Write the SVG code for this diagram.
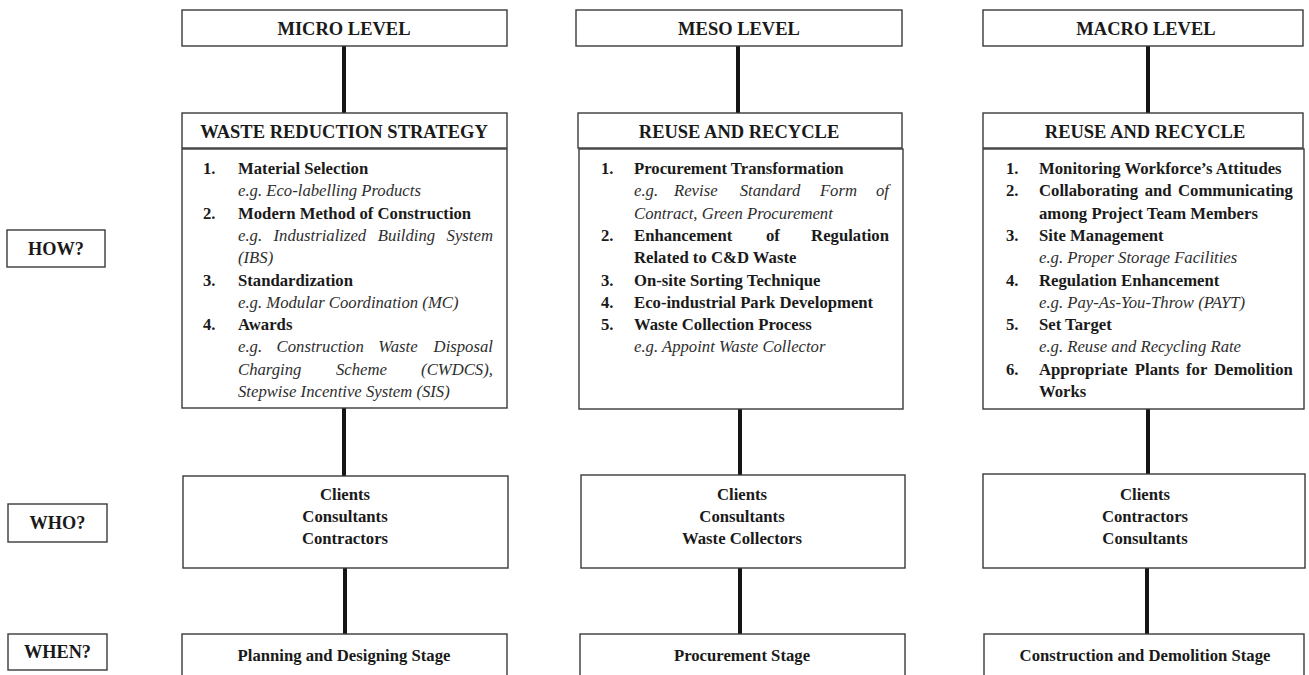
<svg xmlns="http://www.w3.org/2000/svg" width="1309" height="675" viewBox="0 0 1309 675">
<style>
text{font-family:"Liberation Serif","Times New Roman",serif;fill:#1a1a1a}
.box{fill:#fff;stroke:#3a3a3a;stroke-width:1.4}
.hd{font-size:18.5px;font-weight:bold;text-anchor:middle}
.lb{font-size:18.3px;font-weight:bold;text-anchor:middle}
.b{font-size:16.7px;font-weight:bold}
.c{font-size:16.7px;font-weight:bold;text-anchor:middle}
.i{font-size:16.7px;font-style:italic;fill:#2e2e2e}
.con{stroke:#151515;stroke-width:4;fill:none}
</style>
<rect width="1309" height="675" fill="#fff"/>
<g id="connectors">
<line class="con" x1="344" y1="46" x2="344" y2="113"/>
<line class="con" x1="344" y1="408" x2="344" y2="476"/>
<line class="con" x1="345" y1="568" x2="345" y2="634"/>
<line class="con" x1="738" y1="46" x2="738" y2="113"/>
<line class="con" x1="740" y1="409" x2="740" y2="475"/>
<line class="con" x1="740" y1="568" x2="740" y2="634"/>
<line class="con" x1="1148" y1="46" x2="1148" y2="113"/>
<line class="con" x1="1148" y1="409" x2="1148" y2="474"/>
<line class="con" x1="1147" y1="568" x2="1147" y2="634"/>
</g>
<g id="how"><rect class="box" x="7" y="230" width="98" height="37"/><text class="lb" x="56" y="255">HOW?</text></g>
<g id="who"><rect class="box" x="8" y="504" width="99" height="38"/><text class="lb" x="57.5" y="529">WHO?</text></g>
<g id="when"><rect class="box" x="8" y="634" width="99" height="36"/><text class="lb" x="57.5" y="658">WHEN?</text></g>

<g id="micro-level"><rect class="box" x="182" y="10" width="325" height="36"/><text class="hd" x="344" y="35">MICRO LEVEL</text></g>
<g id="meso-level"><rect class="box" x="576" y="10" width="326" height="36"/><text class="hd" x="739" y="35">MESO LEVEL</text></g>
<g id="macro-level"><rect class="box" x="983" y="10" width="320" height="36"/><text class="hd" x="1146" y="35">MACRO LEVEL</text></g>

<g id="micro-strategy"><rect class="box" x="182" y="113" width="325" height="35"/><text class="hd" x="344" y="138">WASTE REDUCTION STRATEGY</text></g>
<g id="meso-strategy"><rect class="box" x="578" y="113" width="324" height="35"/><text class="hd" x="739" y="138">REUSE AND RECYCLE</text></g>
<g id="macro-strategy"><rect class="box" x="983" y="113" width="320" height="35"/><text class="hd" x="1145" y="138">REUSE AND RECYCLE</text></g>

<g id="micro-how">
<rect class="box" x="182" y="149" width="325" height="259"/>
<text class="b" x="203" y="174">1.</text><text class="b" x="238" y="174">Material Selection</text>
<text class="i" x="238" y="196.3">e.g. Eco-labelling Products</text>
<text class="b" x="203" y="218.6">2.</text><text class="b" x="238" y="218.6">Modern Method of Construction</text>
<text class="i" y="240.9"><tspan x="238">e.g.</tspan><tspan x="273.5">Industrialized</tspan><tspan x="377.7">Building</tspan><tspan x="446.6">System</tspan></text>
<text class="i" x="238" y="263.2">(IBS)</text>
<text class="b" x="203" y="285.5">3.</text><text class="b" x="238" y="285.5">Standardization</text>
<text class="i" x="238" y="307.8">e.g. Modular Coordination (MC)</text>
<text class="b" x="203" y="330.1">4.</text><text class="b" x="238" y="330.1">Awards</text>
<text class="i" y="352.4"><tspan x="238">e.g.</tspan><tspan x="276.6">Construction</tspan><tspan x="378.3">Waste</tspan><tspan x="433.6">Disposal</tspan></text>
<text class="i" y="374.7"><tspan x="238">Charging</tspan><tspan x="336">Scheme</tspan><tspan x="421.1">(CWDCS),</tspan></text>
<text class="i" x="238" y="397">Stepwise Incentive System (SIS)</text>
</g>

<g id="meso-how">
<rect class="box" x="579" y="149" width="324" height="260"/>
<text class="b" x="601" y="174">1.</text><text class="b" x="634" y="174">Procurement Transformation</text>
<text class="i" y="196.3"><tspan x="634">e.g.</tspan><tspan x="674">Revise</tspan><tspan x="739.7">Standard</tspan><tspan x="819.9">Form</tspan><tspan x="876">of</tspan></text>
<text class="i" x="634" y="218.6">Contract, Green Procurement</text>
<text class="b" x="601" y="240.9">2.</text><text class="b" y="240.9"><tspan x="634">Enhancement</tspan><tspan x="766">of</tspan><tspan x="811.1">Regulation</tspan></text>
<text class="b" x="634" y="263.2">Related to C&amp;D Waste</text>
<text class="b" x="601" y="285.5">3.</text><text class="b" x="634" y="285.5">On-site Sorting Technique</text>
<text class="b" x="601" y="307.8">4.</text><text class="b" x="634" y="307.8">Eco-industrial Park Development</text>
<text class="b" x="601" y="330.1">5.</text><text class="b" x="634" y="330.1">Waste Collection Process</text>
<text class="i" x="634" y="352.4">e.g. Appoint Waste Collector</text>
</g>

<g id="macro-how">
<rect class="box" x="983" y="149" width="321" height="260"/>
<text class="b" x="1006" y="174">1.</text><text class="b" x="1039" y="174">Monitoring Workforce’s Attitudes</text>
<text class="b" x="1006" y="196.3">2.</text><text class="b" y="196.3"><tspan x="1039">Collaborating</tspan><tspan x="1144.7">and</tspan><tspan x="1178">Communicating</tspan></text>
<text class="b" x="1039" y="218.6">among Project Team Members</text>
<text class="b" x="1006" y="240.9">3.</text><text class="b" x="1039" y="240.9">Site Management</text>
<text class="i" x="1039" y="263.2">e.g. Proper Storage Facilities</text>
<text class="b" x="1006" y="285.5">4.</text><text class="b" x="1039" y="285.5">Regulation Enhancement</text>
<text class="i" x="1039" y="307.8">e.g. Pay-As-You-Throw (PAYT)</text>
<text class="b" x="1006" y="330.1">5.</text><text class="b" x="1039" y="330.1">Set Target</text>
<text class="i" x="1039" y="352.4">e.g. Reuse and Recycling Rate</text>
<text class="b" x="1006" y="374.7">6.</text><text class="b" y="374.7"><tspan x="1039">Appropriate</tspan><tspan x="1134.8">Plants</tspan><tspan x="1186">for</tspan><tspan x="1214">Demolition</tspan></text>
<text class="b" x="1039" y="397">Works</text>
</g>

<g id="micro-who"><rect class="box" x="183" y="476" width="325" height="92"/>
<text class="c" x="345" y="500">Clients</text><text class="c" x="345" y="522">Consultants</text><text class="c" x="345" y="544">Contractors</text></g>
<g id="meso-who"><rect class="box" x="581" y="475" width="324" height="93"/>
<text class="c" x="742" y="500">Clients</text><text class="c" x="742" y="522">Consultants</text><text class="c" x="742" y="544">Waste Collectors</text></g>
<g id="macro-who"><rect class="box" x="983" y="474" width="322" height="94"/>
<text class="c" x="1145" y="500">Clients</text><text class="c" x="1145" y="522">Contractors</text><text class="c" x="1145" y="544">Consultants</text></g>

<g id="micro-when"><rect class="box" x="182" y="634" width="325" height="50"/><text class="c" x="344" y="661">Planning and Designing Stage</text></g>
<g id="meso-when"><rect class="box" x="580" y="634" width="325" height="50"/><text class="c" x="742" y="661">Procurement Stage</text></g>
<g id="macro-when"><rect class="box" x="984" y="634" width="320" height="50"/><text class="c" x="1145" y="661">Construction and Demolition Stage</text></g>
</svg>
